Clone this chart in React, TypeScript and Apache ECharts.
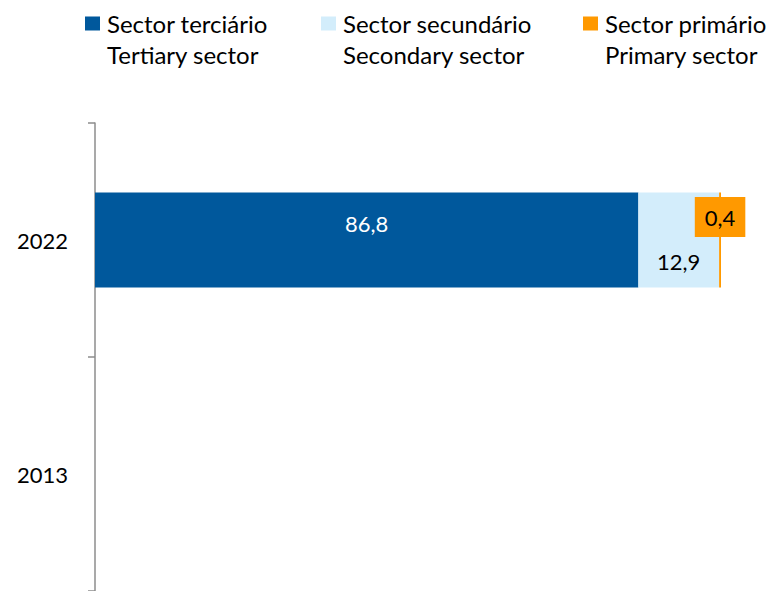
import React, { useEffect, useRef } from "react";
import * as echarts from "echarts";

const categories = ["2013", "2022"];
const tertiary: (number | null)[] = [null, 86.8];
const secondary: (number | null)[] = [null, 12.9];
const primary: (number | null)[] = [null, 0.4];
const seriesNames = [
  "Sector terciário\nTertiary sector",
  "Sector secundário\nSecondary sector",
  "Sector primário\nPrimary sector",
];
const colors = ["#00589C", "#D3EDFB", "#FF9900"];

const FONT = "Lato, 'Noto Sans', sans-serif";
const fmt = (p: any) => (p.value == null ? "" : String(p.value).replace(".", ","));

export default function App() {
  const ref = useRef<HTMLDivElement>(null);
  useEffect(() => {
    if (!ref.current) return;
    const chart = echarts.init(ref.current, undefined, { renderer: "svg" });
    const L = 31;
    const legendBase = {
      orient: "horizontal" as const,
      top: 8,
      padding: 0,
      itemWidth: 15,
      itemHeight: 45,
      icon: "path://M0,0H15V14H0ZM0,45H0.01V45.01H0Z",
      textStyle: {
        fontFamily: FONT,
        fontSize: 24,
        color: "#000",
        lineHeight: L,
        padding: [0, 0, 0, 2],
      },
    };
    chart.setOption({
      animation: false,
      legend: [
        { ...legendBase, left: 85, data: [seriesNames[0]] },
        { ...legendBase, left: 321, data: [seriesNames[1]] },
        { ...legendBase, left: 583, data: [seriesNames[2]] },
      ],
      grid: { left: 95, top: 123, width: 626, height: 470, containLabel: false },
      xAxis: { type: "value", min: 0, max: 100, show: false },
      yAxis: {
        type: "category",
        data: categories,
        axisLine: { show: true, lineStyle: { color: "#8C8C8C", width: 1.5 } },
        axisTick: { show: true, length: 7, inside: false, lineStyle: { color: "#8C8C8C", width: 1.5 } },
        axisLabel: { fontFamily: FONT, fontSize: 22, color: "#000", margin: 27 },
        splitLine: { show: false },
      },
      series: [
        {
          name: seriesNames[0],
          type: "bar",
          stack: "total",
          data: tertiary,
          barWidth: 95,
          itemStyle: { color: colors[0] },
          label: {
            show: true,
            position: "inside",
            color: "#fff",
            fontFamily: FONT,
            fontSize: 22,
            offset: [0, -17],
            formatter: fmt,
          },
        },
        {
          name: seriesNames[1],
          type: "bar",
          stack: "total",
          data: secondary,
          barWidth: 95,
          itemStyle: { color: colors[1] },
          label: {
            show: true,
            position: "inside",
            color: "#000",
            fontFamily: FONT,
            fontSize: 22,
            offset: [0, 21],
            formatter: fmt,
          },
        },
        {
          name: seriesNames[2],
          type: "bar",
          stack: "total",
          data: primary,
          barWidth: 95,
          itemStyle: { color: colors[2] },
          label: {
            show: true,
            position: "inside",
            color: "#000",
            fontFamily: FONT,
            fontSize: 22,
            backgroundColor: "#FF9900",
            padding: [9, 10, 9, 10],
            offset: [0, -23],
            formatter: fmt,
          },
        },
      ],
    });
    return () => chart.dispose();
  }, []);
  return (
    <div
      ref={ref}
      style={{ position: "absolute", left: 0, top: 0, width: 769, height: 591 }}
    />
  );
}
